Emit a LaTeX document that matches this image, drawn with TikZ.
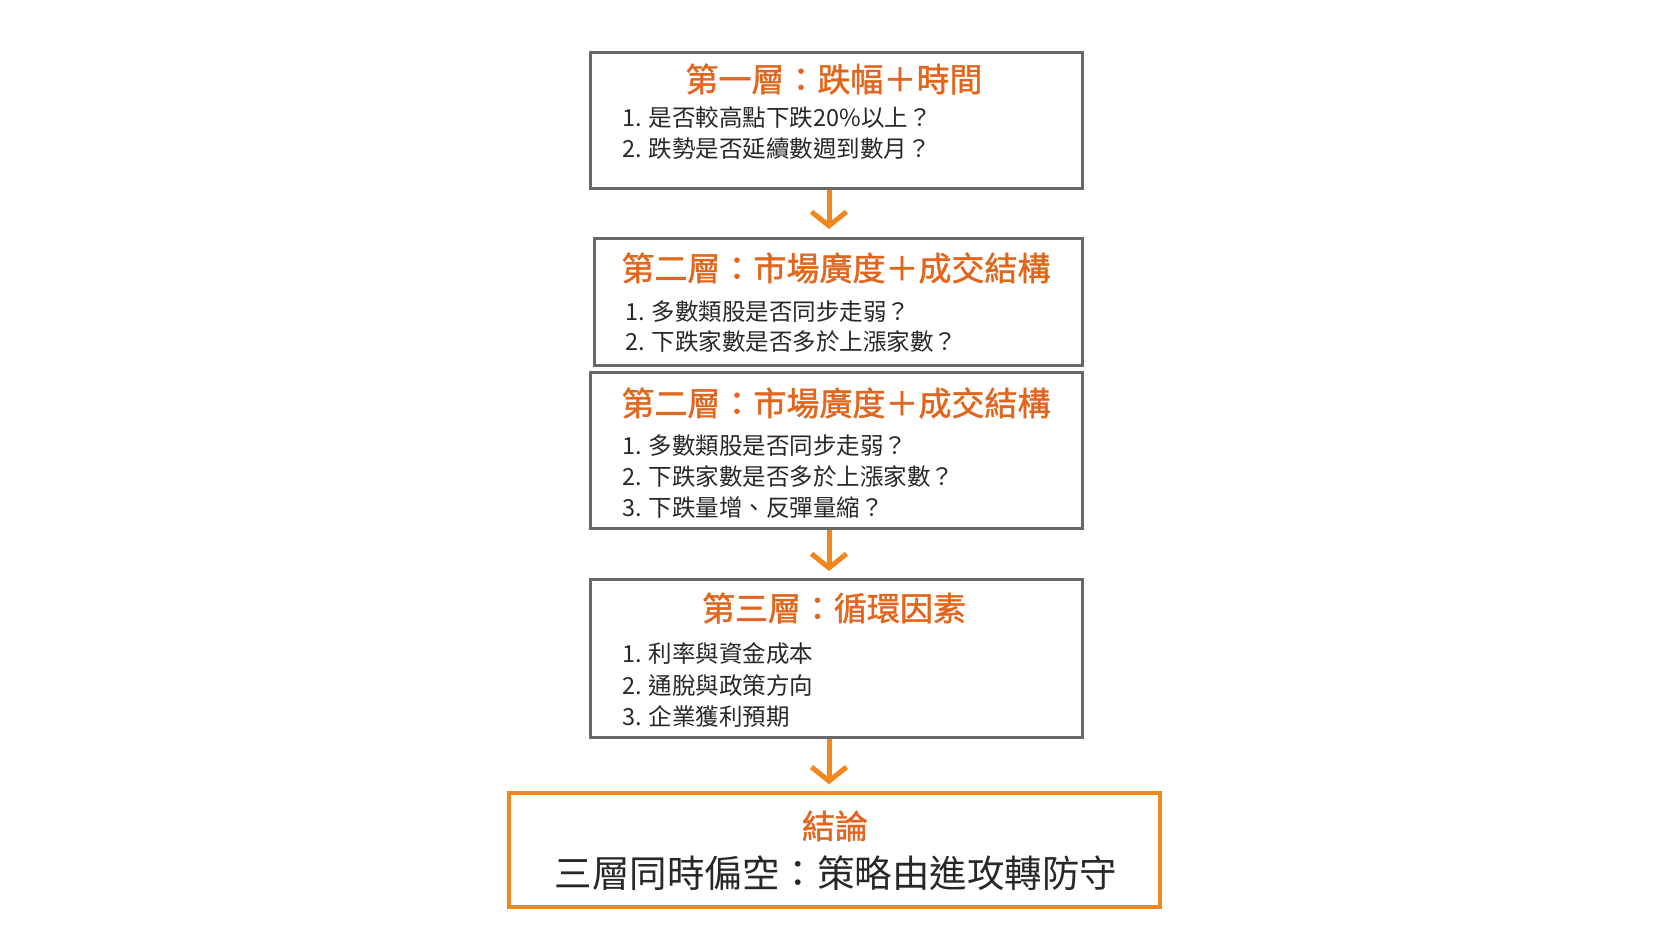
\documentclass[tikz,border=0pt]{standalone}
\usepackage{fontspec}
\setmainfont{Noto Sans CJK TC}
\newfontfamily\ttlfont{Noto Sans CJK TC}[FakeBold=1.3]
\usetikzlibrary{arrows.meta}
\definecolor{ttlc}{RGB}{226,102,28}
\definecolor{arrc}{RGB}{242,135,30}
\definecolor{bordc}{RGB}{105,105,105}
\definecolor{txtc}{RGB}{40,40,40}
\begin{document}
\begin{tikzpicture}[x=1pt,y=-1pt,
  box/.style={draw=bordc, line width=3pt, inner sep=0pt, fill=white},
  endbox/.style={draw=arrc, line width=3.5pt, inner sep=0pt, fill=white},
  ttl/.style={text=ttlc, inner sep=0pt, font=\ttlfont\fontsize{33}{36}\selectfont},
  itm/.style={text=txtc, anchor=west, inner sep=0pt, font=\fontsize{23.5}{28}\selectfont},
  concl/.style={text=txtc, inner sep=0pt, font=\fontsize{37.5}{40}\selectfont},
  flow/.style={draw=arrc, line width=5pt, -{Straight Barb[length=14pt,width=35pt]}}]
\useasboundingbox[fill=white] (0,0) rectangle (1666,937);

% boxes
\node[box, minimum width=492pt, minimum height=136pt] (b1) at (836,120) {};
\node[box, minimum width=488pt, minimum height=127pt] (b2) at (838,301.5) {};
\node[box, minimum width=492pt, minimum height=156pt] (b3) at (836,450) {};
\node[box, minimum width=492pt, minimum height=158pt] (b4) at (836,658) {};
\node[endbox, minimum width=651pt, minimum height=114pt] (b5) at (834.5,850) {};

% box 1
\node[ttl] (t1) at (834,79) {第一層：跌幅＋時間};
\node[itm] (i11) at (622,118) {1. 是否較高點下跌20\%以上？};
\node[itm] (i12) at (622,149) {2. 跌勢是否延續數週到數月？};

% box 2
\node[ttl] (t2) at (836,268) {第二層：市場廣度＋成交結構};
\node[itm] (i21) at (625,312) {1. 多數類股是否同步走弱？};
\node[itm] (i22) at (625,342) {2. 下跌家數是否多於上漲家數？};

% box 3
\node[ttl] (t3) at (836,403) {第二層：市場廣度＋成交結構};
\node[itm] (i31) at (622,446) {1. 多數類股是否同步走弱？};
\node[itm] (i32) at (622,477) {2. 下跌家數是否多於上漲家數？};
\node[itm] (i33) at (622,508) {3. 下跌量增、反彈量縮？};

% box 4
\node[ttl] (t4) at (834,608) {第三層：循環因素};
\node[itm] (i41) at (622,654) {1. 利率與資金成本};
\node[itm] (i42) at (622,685) {2. 通脫與政策方向};
\node[itm] (i43) at (622,717) {3. 企業獲利預期};

% box 5
\node[ttl] (t5) at (835,826) {結論};
\node[concl] (c5) at (836,873) {三層同時偏空：策略由進攻轉防守};

% arrows
\draw[flow, shorten >=7.5pt] ([xshift=-7pt]b1.south) -- ([xshift=-9pt]b2.north);
\draw[flow, shorten >=6.5pt] ([xshift=-7pt]b3.south) -- ([xshift=-7pt]b4.north);
\draw[flow, shorten >=7pt] ([xshift=-7pt]b4.south) -- ([xshift=-5.5pt]b5.north);
\end{tikzpicture}
\end{document}
